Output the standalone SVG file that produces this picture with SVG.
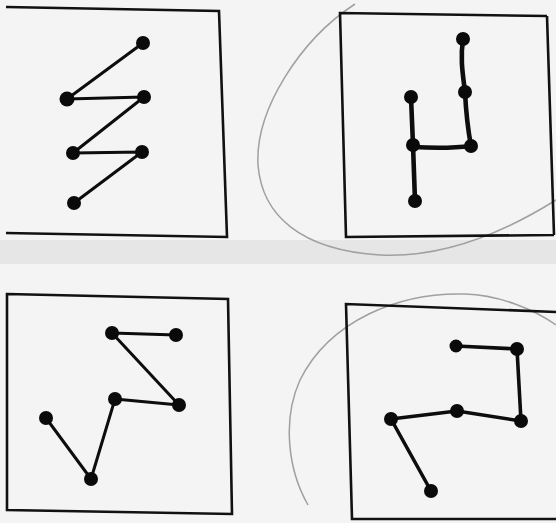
<svg xmlns="http://www.w3.org/2000/svg" width="556" height="523" viewBox="0 0 556 523">
<style>
.box{fill:none;stroke:#111;stroke-width:2.6;stroke-linejoin:miter}
.pencil{fill:none;stroke:#a0a0a0;stroke-width:1.5}
.thin{fill:none;stroke:#0d0d0d;stroke-width:3;stroke-linecap:round;stroke-linejoin:round}
.thick{fill:none;stroke:#0d0d0d;stroke-width:4.6;stroke-linecap:round;stroke-linejoin:round}
.dot{fill:#0a0a0a}
</style>
<rect width="556" height="523" fill="#f4f4f4"/>
<rect x="0" y="240" width="556" height="24" fill="#e6e6e6"/>
<g id="paper">
<path class="pencil" d="M355,4 C300,40 255,110 258,165 C262,215 300,250 380,255 C440,258 500,235 556,200"/>
<path class="pencil" d="M308,505 C288,470 282,420 300,380 C330,320 400,292 465,294 C500,295 535,310 556,325"/>
</g>
<g id="frame-1"><path class="box" d="M6,7 L219,11 L227,237 L6,233"/></g>
<g id="frame-2"><path class="box" d="M547,16 L340,13 L346,237 L554,235 M547,16 L554,235"/></g>
<g id="frame-3"><path class="box" d="M7,294 L228,299 L232,514 L7,510 Z"/></g>
<g id="frame-4"><path class="box" d="M556,312 L346,304 L352,519 L556,519"/></g>
<g id="connectors">
<polyline class="thin" points="143,43 67,99 144,97 73,153 142,152 74,203"/>
<path class="thick" d="M463,39 C460,60 463,75 465,92 C466,112 468,130 471,146"/>
<path class="thick" d="M411,97 L413,145 L415,201"/>
<path class="thick" d="M413,147 C430,148 455,148 471,146"/>
<polyline class="thin" points="176,335 112,333 179,405 115,399 91,479 46,418"/>
<polyline class="thick" style="stroke-width:3.6" points="456,346 517,349 521,421 457,411 391,419 431,491"/>
</g>
<g id="n1a"><circle class="dot" cx="143" cy="43" r="7"/></g>
<g id="n1b"><circle class="dot" cx="67" cy="99" r="7.5"/></g>
<g id="n1c"><circle class="dot" cx="144" cy="97" r="7"/></g>
<g id="n1d"><circle class="dot" cx="73" cy="153" r="7"/></g>
<g id="n1e"><circle class="dot" cx="142" cy="152" r="7"/></g>
<g id="n1f"><circle class="dot" cx="74" cy="203" r="7"/></g>
<g id="n2a"><circle class="dot" cx="463" cy="39" r="7"/></g>
<g id="n2b"><circle class="dot" cx="465" cy="92" r="7"/></g>
<g id="n2c"><circle class="dot" cx="411" cy="97" r="7"/></g>
<g id="n2d"><circle class="dot" cx="413" cy="145" r="7"/></g>
<g id="n2e"><circle class="dot" cx="471" cy="146" r="7"/></g>
<g id="n2f"><circle class="dot" cx="415" cy="201" r="7"/></g>
<g id="n3a"><circle class="dot" cx="112" cy="333" r="7"/></g>
<g id="n3b"><circle class="dot" cx="176" cy="335" r="7"/></g>
<g id="n3c"><circle class="dot" cx="115" cy="399" r="7"/></g>
<g id="n3d"><circle class="dot" cx="179" cy="405" r="7"/></g>
<g id="n3e"><circle class="dot" cx="46" cy="418" r="7"/></g>
<g id="n3f"><circle class="dot" cx="91" cy="479" r="7"/></g>
<g id="n4a"><circle class="dot" cx="456" cy="346" r="6.5"/></g>
<g id="n4b"><circle class="dot" cx="517" cy="349" r="7"/></g>
<g id="n4c"><circle class="dot" cx="521" cy="421" r="7"/></g>
<g id="n4d"><circle class="dot" cx="457" cy="411" r="7"/></g>
<g id="n4e"><circle class="dot" cx="391" cy="419" r="7"/></g>
<g id="n4f"><circle class="dot" cx="431" cy="491" r="7"/></g>
</svg>
